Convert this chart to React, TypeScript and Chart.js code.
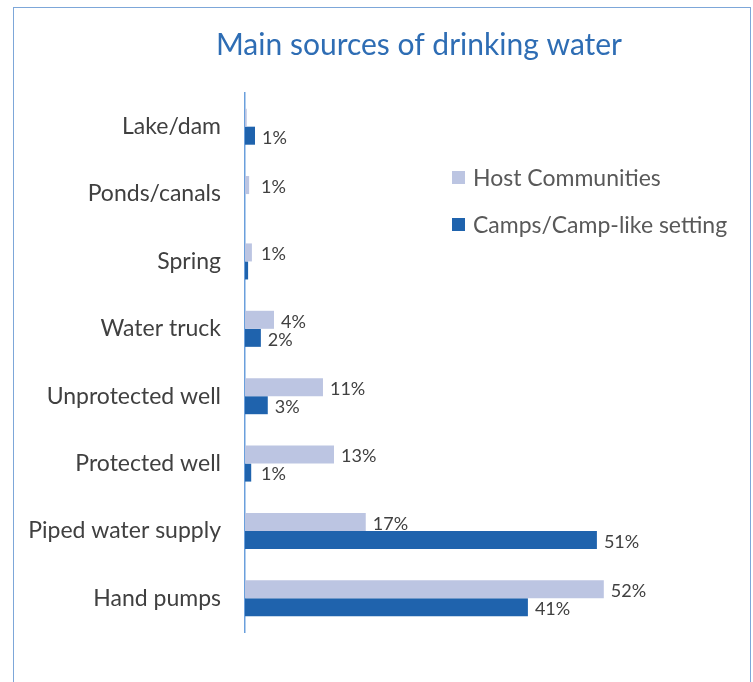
import React, { useEffect, useRef } from "react";
import { Chart, registerables } from "chart.js";

Chart.register(...registerables);

const categories = [
  "Lake/dam",
  "Ponds/canals",
  "Spring",
  "Water truck",
  "Unprotected well",
  "Protected well",
  "Piped water supply",
  "Hand pumps",
];
const hostValues = [0.25, 0.6, 1.0, 4.2, 11.3, 12.9, 17.5, 52];
const campValues = [1.45, 0, 0.45, 2.3, 3.3, 0.9, 51, 41];
const hostLabels = ["", "1%", "1%", "4%", "11%", "13%", "17%", "52%"];
const campLabels = ["1%", "", "", "2%", "3%", "1%", "51%", "41%"];
const seriesNames = ["Host Communities", "Camps/Camp-like setting"];
const seriesColors = ["#BCC5E2", "#1F63AD"];
const titleText = "Main sources of drinking water";

const FONT = "Lato, 'Open Sans', sans-serif";

const labelPlugin = {
  id: "valueLabels",
  afterDatasetsDraw(chart: any) {
    const ctx = chart.ctx;
    const all = [hostLabels, campLabels];
    ctx.save();
    ctx.font = `18px ${FONT}`;
    ctx.fillStyle = "#404040";
    ctx.textBaseline = "middle";
    ctx.textAlign = "left";
    chart.data.datasets.forEach((_: any, di: number) => {
      const meta = chart.getDatasetMeta(di);
      meta.data.forEach((el: any, i: number) => {
        const txt = all[di][i];
        if (!txt) return;
        const x = Math.max(el.x + 7, chart.chartArea.left + 16);
        ctx.fillText(txt, x, el.y + 2);
      });
    });
    ctx.restore();
  },
};

const decorPlugin = {
  id: "decor",
  afterDraw(chart: any) {
    const ctx = chart.ctx;
    ctx.save();
    // title
    ctx.font = `30px ${FONT}`;
    ctx.fillStyle = "#2E6DB4";
    ctx.textAlign = "center";
    ctx.textBaseline = "middle";
    ctx.fillText(titleText, 419, 45);
    // legend
    const ys = [178, 225];
    ctx.font = `23px ${FONT}`;
    ctx.textAlign = "left";
    seriesNames.forEach((n, i) => {
      ctx.fillStyle = seriesColors[i];
      ctx.fillRect(452, ys[i] - 7, 13, 13);
      ctx.fillStyle = "#595959";
      ctx.fillText(n, 473, ys[i] + 1);
    });
    ctx.restore();
  },
};

export default function App() {
  const ref = useRef<HTMLCanvasElement>(null);
  useEffect(() => {
    if (!ref.current) return;
    const chart = new Chart(ref.current, {
      type: "bar",
      data: {
        labels: categories,
        datasets: [
          {
            label: seriesNames[0],
            data: hostValues,
            backgroundColor: seriesColors[0],
            categoryPercentage: 0.535,
            barPercentage: 1,
          },
          {
            label: seriesNames[1],
            data: campValues,
            backgroundColor: seriesColors[1],
            categoryPercentage: 0.535,
            barPercentage: 1,
          },
        ],
      },
      options: {
        indexAxis: "y",
        animation: false,
        responsive: false,
        layout: { padding: { top: 93, bottom: 50, right: 94, left: 0 } },
        plugins: {
          legend: { display: false },
          title: { display: false },
          tooltip: { enabled: false },
        },
        scales: {
          x: {
            display: false,
            min: 0,
            max: 60,
          },
          y: {
            afterFit(scale: any) {
              scale.width = 245;
            },
            grid: { display: false, drawTicks: false },
            border: { display: true, color: "#6A9FDC", width: 1.5 },
            ticks: {
              padding: 24,
              color: "#404040",
              font: { family: FONT, size: 23 },
            },
          },
        },
      },
      plugins: [labelPlugin, decorPlugin],
    } as any);
    return () => chart.destroy();
  }, []);
  return (
    <div style={{ position: "absolute", left: 0, top: 0, width: 753, height: 682, background: "#fff" }}>
      <div
        style={{
          position: "absolute",
          left: 13,
          top: 7,
          width: 736,
          height: 690,
          borderTop: "1.5px solid #7DA7D9",
          borderLeft: "1.5px solid #7DA7D9",
          borderRight: "1.5px solid #7DA7D9",
        }}
      />
      <canvas ref={ref} width={753} height={682} style={{ position: "absolute", left: 0, top: 0 }} />
    </div>
  );
}
